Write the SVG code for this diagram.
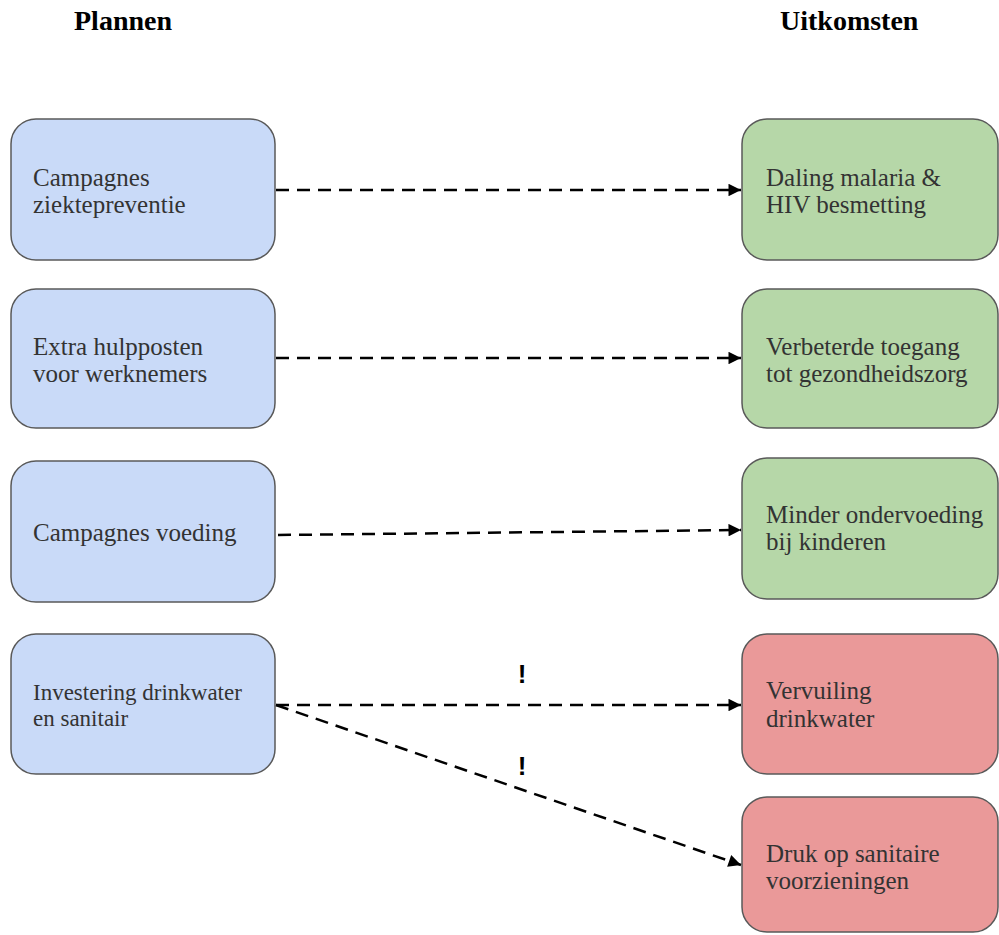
<svg xmlns="http://www.w3.org/2000/svg" width="999" height="935" viewBox="0 0 999 935">
<style>
.title{font-family:"Liberation Serif","Times New Roman",serif;font-weight:bold;font-size:28px;fill:#000}
.box{stroke:#595959;stroke-width:1.5}
.plan{fill:#c9daf8}
.good{fill:#b6d7a8}
.bad{fill:#ea9999}
.lbl{font-family:"Liberation Serif","Times New Roman",serif;font-size:25px;fill:#333}
.conn{fill:none;stroke:#000;stroke-width:2.5;stroke-dasharray:13 8}
.excl{font-family:"Liberation Sans",Arial,sans-serif;font-weight:bold;font-size:26px;fill:#000;text-anchor:middle}
</style>
<defs>
<marker id="arr" viewBox="0 0 10 10" refX="10" refY="5" markerWidth="6" markerHeight="5" markerUnits="strokeWidth" orient="auto">
<path d="M0,0 L10,5 L0,10 z" fill="#000"/>
</marker>
</defs>
<rect width="999" height="935" fill="#fff"/>
<text class="title" x="74" y="30">Plannen</text>
<text class="title" x="780" y="30">Uitkomsten</text>

<g id="p1"><rect class="box plan" x="11" y="119" width="264" height="141" rx="25"/>
<text class="lbl" x="33" y="186">Campagnes</text><text class="lbl" x="33" y="213">ziektepreventie</text></g>
<g id="p2"><rect class="box plan" x="11" y="289" width="264" height="139" rx="25"/>
<text class="lbl" x="33" y="355">Extra hulpposten</text><text class="lbl" x="33" y="382">voor werknemers</text></g>
<g id="p3"><rect class="box plan" x="11" y="461" width="264" height="141" rx="25"/>
<text class="lbl" x="33" y="541">Campagnes voeding</text></g>
<g id="p4"><rect class="box plan" x="11" y="634" width="264" height="140" rx="25"/>
<text class="lbl" x="33" y="700" style="font-size:23px">Investering drinkwater</text><text class="lbl" x="33" y="726" style="font-size:23px">en sanitair</text></g>

<g id="o1"><rect class="box good" x="742" y="119" width="256" height="141" rx="25"/>
<text class="lbl" x="766" y="186">Daling malaria &amp;</text><text class="lbl" x="766" y="213">HIV besmetting</text></g>
<g id="o2"><rect class="box good" x="742" y="289" width="256" height="139" rx="25"/>
<text class="lbl" x="766" y="355">Verbeterde toegang</text><text class="lbl" x="766" y="382">tot gezondheidszorg</text></g>
<g id="o3"><rect class="box good" x="742" y="458" width="256" height="141" rx="25"/>
<text class="lbl" x="766" y="523">Minder ondervoeding</text><text class="lbl" x="766" y="550">bij kinderen</text></g>
<g id="o4"><rect class="box bad" x="742" y="634" width="256" height="140" rx="25"/>
<text class="lbl" x="766" y="699">Vervuiling</text><text class="lbl" x="766" y="727">drinkwater</text></g>
<g id="o5"><rect class="box bad" x="742" y="797" width="256" height="135" rx="25"/>
<text class="lbl" x="766" y="862">Druk op sanitaire</text><text class="lbl" x="766" y="889">voorzieningen</text></g>

<g id="connectors">
<line class="conn" x1="276" y1="190" x2="741" y2="190" marker-end="url(#arr)"/>
<line class="conn" x1="276" y1="358" x2="741" y2="358" marker-end="url(#arr)"/>
<line class="conn" x1="278" y1="535" x2="741" y2="530" marker-end="url(#arr)"/>
<line class="conn" x1="276" y1="705" x2="741" y2="705" marker-end="url(#arr)"/>
<line class="conn" x1="276" y1="705" x2="741" y2="865" marker-end="url(#arr)"/>
<text class="excl" x="522" y="683">!</text>
<text class="excl" x="522" y="775">!</text>
</g>
</svg>
